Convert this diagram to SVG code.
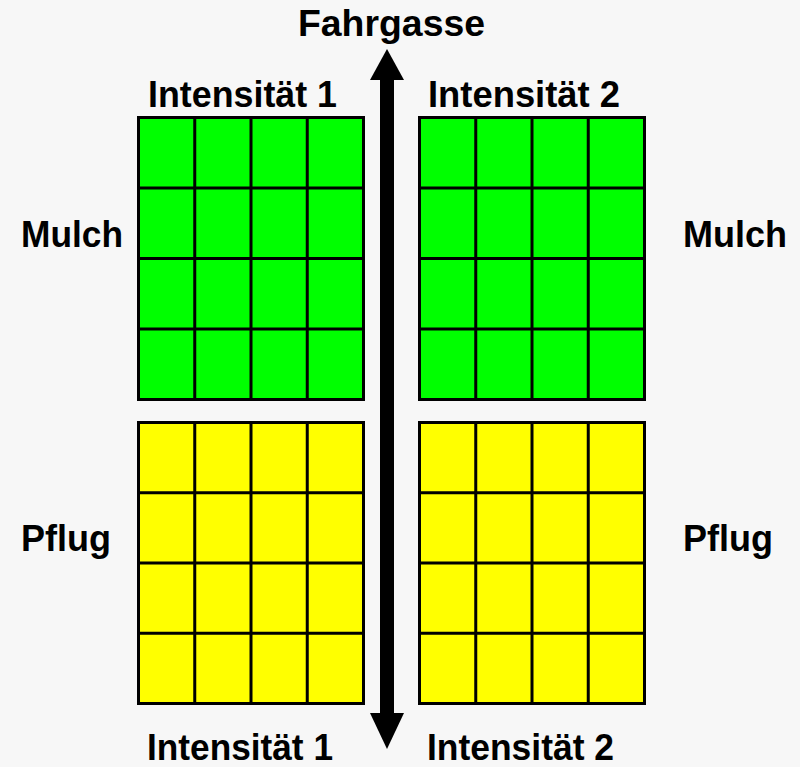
<svg xmlns="http://www.w3.org/2000/svg" width="800" height="767" viewBox="0 0 800 767">
<style>
.lbl{font-family:"Liberation Sans",Arial,sans-serif;font-weight:bold;font-size:36px;fill:#000}
.g{fill:#00ff00;stroke:#000;stroke-width:3}
.y{fill:#ffff00;stroke:#000;stroke-width:3}
.grid{stroke:#000;stroke-width:3;fill:none}
</style>
<rect width="800" height="767" fill="#f7f7f7"/>
<g id="block-mulch-1">
<rect class="g" x="138.5" y="117.5" width="225" height="282"/>
<path class="grid" d="M194.75 117.5V399.5M251 117.5V399.5M307.25 117.5V399.5M138.5 188H363.5M138.5 258.5H363.5M138.5 329H363.5"/>
</g>
<g id="block-mulch-2">
<rect class="g" x="419.5" y="117.5" width="225" height="282"/>
<path class="grid" d="M475.75 117.5V399.5M532 117.5V399.5M588.25 117.5V399.5M419.5 188H644.5M419.5 258.5H644.5M419.5 329H644.5"/>
</g>
<g id="block-pflug-1">
<rect class="y" x="138.5" y="422.5" width="225" height="281"/>
<path class="grid" d="M194.75 422.5V703.5M251 422.5V703.5M307.25 422.5V703.5M138.5 492.75H363.5M138.5 563H363.5M138.5 633.25H363.5"/>
</g>
<g id="block-pflug-2">
<rect class="y" x="419.5" y="422.5" width="225" height="281"/>
<path class="grid" d="M475.75 422.5V703.5M532 422.5V703.5M588.25 422.5V703.5M419.5 492.75H644.5M419.5 563H644.5M419.5 633.25H644.5"/>
</g>
<g id="connectors">
<rect x="380" y="78" width="14" height="637" fill="#000"/>
<polygon points="370,80 404,80 387,49" fill="#000"/>
<polygon points="370,713 404,713 387,749" fill="#000"/>
</g>
<g id="labels">
<text class="lbl" x="298" y="36" textLength="187" lengthAdjust="spacingAndGlyphs">Fahrgasse</text>
<text class="lbl" x="148" y="107" textLength="189" lengthAdjust="spacingAndGlyphs">Intensität 1</text>
<text class="lbl" x="428" y="107" textLength="192" lengthAdjust="spacingAndGlyphs">Intensität 2</text>
<text class="lbl" x="147" y="760" textLength="186" lengthAdjust="spacingAndGlyphs">Intensität 1</text>
<text class="lbl" x="427" y="760" textLength="187" lengthAdjust="spacingAndGlyphs">Intensität 2</text>
<text class="lbl" x="21" y="247" textLength="102" lengthAdjust="spacingAndGlyphs">Mulch</text>
<text class="lbl" x="683" y="247" textLength="104" lengthAdjust="spacingAndGlyphs">Mulch</text>
<text class="lbl" x="21" y="551">Pflug</text>
<text class="lbl" x="683" y="551">Pflug</text>
</g>
</svg>
